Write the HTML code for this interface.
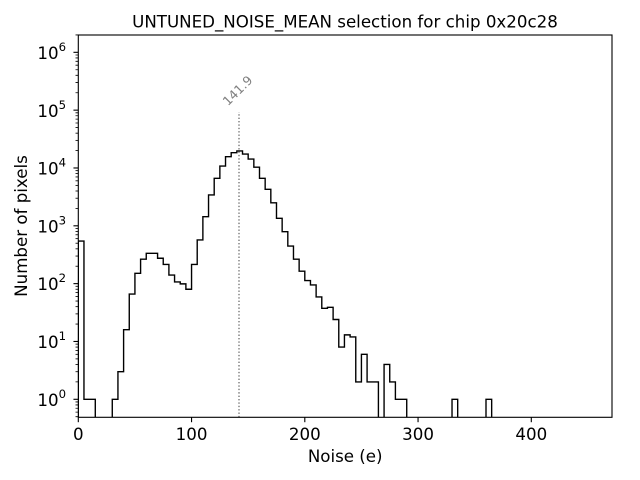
<!DOCTYPE html>
<html>
<head>
<meta charset="utf-8">
<style>
  html, body { margin: 0; padding: 0; background: #ffffff; }
  svg { display: block; }
  text { font-family: "DejaVu Sans", "Liberation Sans", sans-serif; fill: #000; }
</style>
</head>
<body>
<svg width="640" height="480" viewBox="0 0 640 480" xmlns="http://www.w3.org/2000/svg">
  <rect x="0" y="0" width="640" height="480" fill="#ffffff"/>
  <defs>
    <clipPath id="ax">
      <rect x="78.3" y="35" width="533.7" height="382.3"/>
    </clipPath>
    <clipPath id="mc">
      <rect x="70" y="34.4" width="10" height="383.4"/>
    </clipPath>
    <g id="m">
      <line x1="75.52" x2="78.3" y1="-17.41" y2="-17.41"/>
      <line x1="75.52" x2="78.3" y1="-27.59" y2="-27.59"/>
      <line x1="75.52" x2="78.3" y1="-34.81" y2="-34.81"/>
      <line x1="75.52" x2="78.3" y1="-40.42" y2="-40.42"/>
      <line x1="75.52" x2="78.3" y1="-45.00" y2="-45.00"/>
      <line x1="75.52" x2="78.3" y1="-48.87" y2="-48.87"/>
      <line x1="75.52" x2="78.3" y1="-52.22" y2="-52.22"/>
      <line x1="75.52" x2="78.3" y1="-55.17" y2="-55.17"/>
    </g>
  </defs>

  <!-- title -->
  <text x="345" y="27.7" font-size="16.67" text-anchor="middle">UNTUNED_NOISE_MEAN selection for chip 0x20c28</text>

  <!-- dotted vertical line at 141.9 -->
  <line x1="239" y1="417.3" x2="239" y2="112" stroke="#777777" stroke-width="1.39" stroke-dasharray="1.39 2.0"/>
  <text x="0" y="0" font-size="12.5" fill="#808080" style="fill:#808080" text-anchor="middle" dominant-baseline="central" transform="translate(237.5,90.5) rotate(-45)">141.9</text>

  <!-- histogram -->
  <g clip-path="url(#ax)">
    <path transform="translate(78.3,399.3) scale(1.1325,-57.83)" fill="none" stroke="#000" stroke-width="1.39" vector-effect="non-scaling-stroke" stroke-linejoin="miter"
      d="M0,-0.5 V2.737 H5 V0 H15 V-0.5 H30 V0 H35 V0.477 H40 V1.204 H45 V1.820 H50 V2.179 H55 V2.423 H60 V2.525 H70 V2.439 H75 V2.332 H80 V2.149 H85 V2.029 H90 V1.996 H95 V1.903 H100 V2.332 H105 V2.756 H110 V3.157 H115 V3.533 H120 V3.822 H125 V4.033 H130 V4.196 H135 V4.265 H140 V4.294 H145 V4.241 H150 V4.155 H155 V4.013 H160 V3.822 H165 V3.631 H170 V3.398 H175 V3.130 H180 V2.898 H185 V2.650 H190 V2.423 H195 V2.215 H200 V2.053 H205 V1.978 H210 V1.771 H215 V1.574 H220 V1.591 H225 V1.380 H230 V0.903 H235 V1.114 H240 V1.079 H245 V0.301 H250 V0.778 H255 V0.301 H265 V-0.5 H270 V0.602 H275 V0.301 H280 V0 H290 V-0.5 H330 V0 H335 V-0.5 H360 V0 H365 V-0.5"/>
  </g>

  <!-- spines -->
  <rect x="78.3" y="35" width="533.7" height="382.3" fill="none" stroke="#000" stroke-width="1.11"/>

  <!-- x major ticks -->
  <g stroke="#000" stroke-width="1.11">
    <line x1="78.3" x2="78.3" y1="417.3" y2="422.2"/>
    <line x1="191.55" x2="191.55" y1="417.3" y2="422.2"/>
    <line x1="304.8" x2="304.8" y1="417.3" y2="422.2"/>
    <line x1="418.05" x2="418.05" y1="417.3" y2="422.2"/>
    <line x1="531.3" x2="531.3" y1="417.3" y2="422.2"/>
  </g>
  <g font-size="16.67" text-anchor="middle">
    <text x="78.3" y="440">0</text>
    <text x="191.55" y="440">100</text>
    <text x="304.8" y="440">200</text>
    <text x="418.05" y="440">300</text>
    <text x="531.3" y="440">400</text>
  </g>
  <text x="345.2" y="462" font-size="16.67" text-anchor="middle">Noise (e)</text>

  <!-- y major ticks -->
  <g stroke="#000" stroke-width="1.11">
    <line x1="73.44" x2="78.3" y1="399.3" y2="399.3"/>
    <line x1="73.44" x2="78.3" y1="341.47" y2="341.47"/>
    <line x1="73.44" x2="78.3" y1="283.64" y2="283.64"/>
    <line x1="73.44" x2="78.3" y1="225.81" y2="225.81"/>
    <line x1="73.44" x2="78.3" y1="167.98" y2="167.98"/>
    <line x1="73.44" x2="78.3" y1="110.15" y2="110.15"/>
    <line x1="73.44" x2="78.3" y1="52.32" y2="52.32"/>
  </g>
  <!-- y minor ticks -->
  <g stroke="#000" stroke-width="0.83" clip-path="url(#mc)">
    <use href="#m" transform="translate(0,457.13)"/>
    <use href="#m" transform="translate(0,399.3)"/>
    <use href="#m" transform="translate(0,341.47)"/>
    <use href="#m" transform="translate(0,283.64)"/>
    <use href="#m" transform="translate(0,225.81)"/>
    <use href="#m" transform="translate(0,167.98)"/>
    <use href="#m" transform="translate(0,110.15)"/>
    <use href="#m" transform="translate(0,52.32)"/>
  </g>
  <g font-size="16.67" text-anchor="end">
    <text x="66" y="405.9">10<tspan dy="-8" font-size="11.7">0</tspan></text>
    <text x="66" y="348.07">10<tspan dy="-8" font-size="11.7">1</tspan></text>
    <text x="66" y="290.24">10<tspan dy="-8" font-size="11.7">2</tspan></text>
    <text x="66" y="232.41">10<tspan dy="-8" font-size="11.7">3</tspan></text>
    <text x="66" y="174.58">10<tspan dy="-8" font-size="11.7">4</tspan></text>
    <text x="66" y="116.75">10<tspan dy="-8" font-size="11.7">5</tspan></text>
    <text x="66" y="58.92">10<tspan dy="-8" font-size="11.7">6</tspan></text>
  </g>
  <text x="0" y="0" font-size="16.67" text-anchor="middle" transform="translate(27,226) rotate(-90)">Number of pixels</text>
</svg>
</body>
</html>
